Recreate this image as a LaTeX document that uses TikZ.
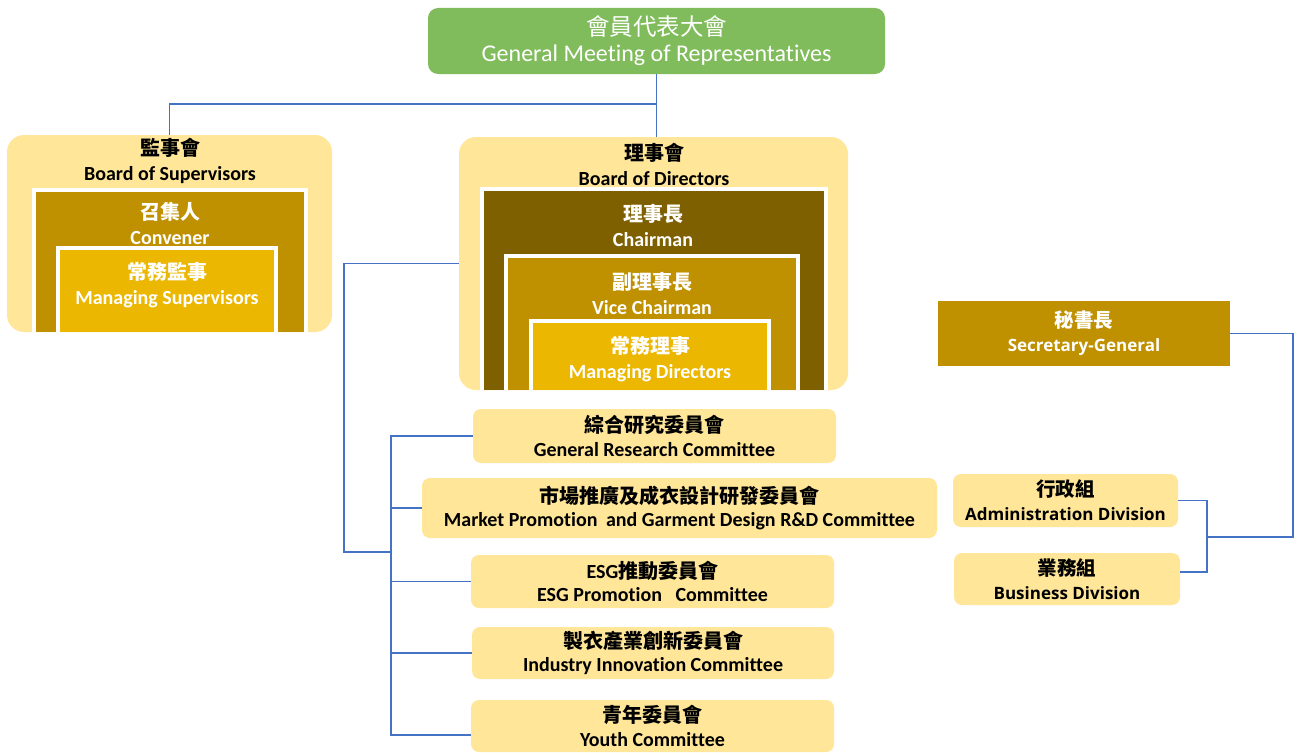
\documentclass[tikz,border=0pt]{standalone}
\usepackage{fontspec}
\setmainfont{Carlito}[Ligatures={NoCommon}]
\newfontfamily\cjk{Noto Sans CJK TC}
\newfontfamily\osans{Open Sans}
\usetikzlibrary{calc}
\definecolor{gmgreen}{HTML}{80BC5C}
\definecolor{lightgold}{HTML}{FFE699}
\definecolor{darkgold}{HTML}{7F6000}
\definecolor{midgold}{HTML}{BF9000}
\definecolor{brightgold}{HTML}{ECB700}
\definecolor{linkblue}{HTML}{4472C4}
\tikzset{
  box/.style={inner sep=0pt, outer sep=0pt, anchor=north west},
  panel/.style={box, fill=lightgold, rounded corners=17pt},
  level/.style={box, fill=#1},
  comm/.style={box, fill=lightgold, rounded corners=8pt, align=center,
    font=\bfseries\fontsize{20}{23.5}\selectfont},
  div/.style={box, fill=lightgold, rounded corners=8pt, align=center,
    font=\bfseries\fontsize{17}{24}\selectfont},
  lbl/.style={align=center, inner sep=0pt, font=\bfseries\fontsize{20}{24.5}\selectfont},
  wlbl/.style={lbl, text=white},
  wedge/.style={white, line width=4pt},
  conn/.style={draw=linkblue, line width=1.2pt}
}
\begin{document}
\begin{tikzpicture}[x=1pt,y=-1pt]
\clip (0,0) rectangle (1295,752);
\fill[white] (0,0) rectangle (1295,752);

% top
\node[box, fill=gmgreen, rounded corners=10pt, minimum width=457, minimum height=66,
  text=white, align=center, font=\fontsize{24}{26}\selectfont] (gm) at (428,8)
  {{\cjk\fontsize{23.5}{26}\selectfont 會員代表大會}\\General Meeting of Representatives};

% Board of Supervisors
\node[panel, minimum width=325, minimum height=197] (bos) at (7,135) {};
\node[level=midgold, minimum width=276, minimum height=144] (conv) at (32,188) {};
\draw[wedge] ([xshift=2pt]conv.south west) |- ([yshift=-2pt]conv.north) -| ([xshift=-2pt]conv.south east);
\node[level=brightgold, minimum width=222, minimum height=86] (ms) at (56,246) {};
\draw[wedge] ([xshift=2pt]ms.south west) |- ([yshift=-2pt]ms.north) -| ([xshift=-2pt]ms.south east);
\node[lbl] (bosT) at (170,161) {{\cjk 監事會}\\Board of Supervisors};
\node[wlbl] (convT) at (170,223.5) {{\cjk 召集人}\\Convener};
\node[wlbl] (msT) at (167,285) {{\cjk 常務監事}\\Managing Supervisors};

% Board of Directors
\node[panel, minimum width=389, minimum height=253] (bod) at (459,137) {};
\node[level=darkgold, minimum width=348, minimum height=203] (ch) at (480,187) {};
\draw[wedge] ([xshift=2pt]ch.south west) |- ([yshift=-2pt]ch.north) -| ([xshift=-2pt]ch.south east);
\node[level=midgold, minimum width=296, minimum height=136] (vc) at (504,254) {};
\draw[wedge] ([xshift=2pt]vc.south west) |- ([yshift=-2pt]vc.north) -| ([xshift=-2pt]vc.south east);
\node[level=brightgold, minimum width=242, minimum height=71] (md) at (529,319) {};
\draw[wedge] ([xshift=2pt]md.south west) |- ([yshift=-2pt]md.north) -| ([xshift=-2pt]md.south east);
\node[lbl] (bodT) at (654,164.5) {{\cjk 理事會}\\Board of Directors};
\node[wlbl] (chT) at (653,225.5) {{\cjk 理事長}\\Chairman};
\node[wlbl] (vcT) at (652,293.5) {{\cjk 副理事長}\\Vice Chairman};
\node[wlbl] (mdT) at (650,359) {{\cjk 常務理事}\\Managing Directors};

% committees
\node[comm, minimum width=363, minimum height=54] (gr) at (473,409) {{\cjk 綜合研究委員會}\\General Research Committee};
\node[comm, minimum width=515, minimum height=60] (mk) at (422,478) {{\cjk 市場推廣及成衣設計研發委員會}\\Market Promotion\hspace{0.2em} and Garment Design R\&D Committee};
\node[comm, minimum width=363, minimum height=53] (esg) at (471,555) {{ESG\cjk 推動委員會}\\ESG Promotion\hspace{0.45em} Committee};
\node[comm, minimum width=362, minimum height=52] (ind) at (472,627) {{\cjk 製衣產業創新委員會}\\Industry Innovation Committee};
\node[comm, minimum width=363, minimum height=52] (youth) at (471,700) {{\cjk 青年委員會}\\Youth Committee};

% secretariat
\node[box, fill=midgold, minimum width=292, minimum height=65, text=white, align=center,
  font=\bfseries\fontsize{17}{24}\selectfont] (sg) at (938,301)
  {{\cjk\fontsize{19.5}{24}\selectfont 秘書長}\\{\osans Secretary-General}};
\node[div, minimum width=225, minimum height=53] (adm) at (953,474)
  {{\cjk\fontsize{19.5}{24}\selectfont 行政組}\\{\osans Administration Division}};
\node[div, minimum width=226, minimum height=52] (biz) at (954,553)
  {{\cjk\fontsize{19.5}{24}\selectfont 業務組}\\{\osans Business Division}};

% connectors
\coordinate (hj) at (656.5,104);
\coordinate (lj) at (344,552);
\coordinate (bx) at (391,0);
\coordinate (yc) at ([yshift=-9pt]youth.west);
\coordinate (rx) at (1293,0);
\coordinate (bj) at (1207,537);
\coordinate (bzc) at ([yshift=7pt]biz.east);
\draw[conn] (gm.south) -- (hj) -| (bos.north);
\draw[conn] (hj) -- (hj |- bod.north);
\draw[conn] (bod.west) -| (lj) -- (lj -| bx);
\draw[conn] (gr.west) -- (gr.west -| bx) -- (yc -| bx) -- (yc);
\foreach \n in {mk,esg,ind} \draw[conn] (\n.west) -- (\n.west -| bx);
\draw[conn] (sg.east) -- (sg.east -| rx) -- (rx |- bj) -- (bj);
\draw[conn] (adm.east) -| (bj) |- (bzc);
\end{tikzpicture}
\end{document}
